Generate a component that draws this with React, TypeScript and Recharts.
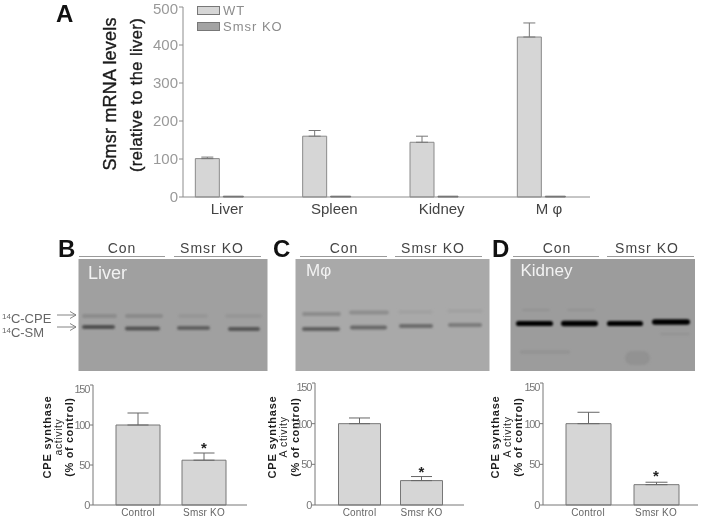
import React from 'react';
import {
  BarChart,
  Bar,
  XAxis,
  YAxis,
  ErrorBar,
  Legend,
  ReferenceDot,
} from 'recharts';

const FONT = '"Liberation Sans", Arial, sans-serif';

// panel A
const tissues = ['Liver', 'Spleen', 'Kidney', 'M \u03c6'];
const wtLevels = [101, 160, 144, 421];
const wtErrors = [4, 15, 16, 37];
const koLevels = [2, 2, 2, 2];
const levelTicks = [0, 100, 200, 300, 400, 500];

// panels B, C, D
const groups = ['Control', 'Smsr KO'];
const activityTicks = [0, 50, 100, 150];
const liverActivity = [100, 56];
const liverErrors = [15, 9];
const macrophageActivity = [100, 30];
const macrophageErrors = [7, 5];
const kidneyActivity = [100, 25];
const kidneyErrors = [14, 3];

const levelData = tissues.map((tissue, i) => ({
  tissue,
  WT: wtLevels[i],
  'Smsr KO': koLevels[i],
  err: [0, wtErrors[i]],
}));

const SmallLegend = ({ payload }: any) => (
  <div style={{ fontFamily: FONT, fontSize: 13, color: '#8c8c8c', letterSpacing: 1 }}>
    {(payload || []).map((item: any) => (
      <div key={item.value} style={{ display: 'flex', alignItems: 'center', height: 15.5 }}>
        <span
          style={{
            display: 'inline-block',
            width: 21,
            height: 7,
            background: item.color,
            border: '1px solid #777',
            marginRight: 3,
          }}
        />
        {item.value}
      </div>
    ))}
  </div>
);

const LevelsChart = () => (
  <div style={{ position: 'absolute', left: 130, top: 0 }}>
    <BarChart
      width={465}
      height={232}
      data={levelData}
      margin={{ top: 7, right: 5, bottom: 0, left: 0 }}
    >
      <XAxis
        dataKey="tissue"
        scale="point"
        padding={{ left: 36, right: 49 }}
        height={35}
        tickLine={false}
        tickSize={2}
        tickMargin={4}
        interval={0}
        axisLine={{ stroke: '#8c8c8c' }}
        tick={{ fill: '#444', fontFamily: FONT, fontSize: 15, dx: 8 }}
      />
      <YAxis
        width={53}
        domain={[0, 500]}
        ticks={levelTicks}
        tickSize={4}
        tickMargin={1}
        axisLine={{ stroke: '#8c8c8c' }}
        tickLine={{ stroke: '#8c8c8c' }}
        tick={{ fill: '#999', fontFamily: FONT, fontSize: 15 }}
      />
      <Legend
        layout="horizontal"
        align="center"
        verticalAlign="middle"
        itemSorter={null}
        content={<SmallLegend />}
        wrapperStyle={{ left: 67, top: 3, width: 130 }}
      />
      <Bar dataKey="WT" barSize={24} fill="#d6d6d6" stroke="#8a8a8a" strokeWidth={1} isAnimationActive={false}>
        <ErrorBar dataKey="err" width={6} stroke="#777" strokeWidth={1} direction="y" isAnimationActive={false} />
      </Bar>
      <Bar dataKey="Smsr KO" barSize={20} fill="#a3a3a3" stroke="#555" strokeWidth={1} isAnimationActive={false} />
    </BarChart>
  </div>
);

type ActivityProps = {
  left: number;
  top: number;
  width: number;
  height: number;
  axisWidth: number;
  padLeft: number;
  padRight: number;
  barSize: number;
  capWidth: number;
  values: number[];
  errors: number[];
  starValue: number;
};

const ActivityChart = (p: ActivityProps) => {
  const data = groups.map((group, i) => ({
    group,
    value: p.values[i],
    err: [0, p.errors[i]],
  }));
  return (
    <div style={{ position: 'absolute', left: p.left, top: p.top }}>
      <BarChart
        width={p.width}
        height={p.height}
        data={data}
        margin={{ top: 2, right: 1, bottom: 0, left: 0 }}
      >
        <XAxis
          dataKey="group"
          scale="point"
          padding={{ left: p.padLeft, right: p.padRight }}
          height={15.5}
          tickLine={false}
          tickSize={1}
          tickMargin={3}
          interval={0}
          axisLine={{ stroke: '#777' }}
          tick={{ fill: '#666', fontFamily: FONT, fontSize: 10, letterSpacing: 0.2 }}
        />
        <YAxis
          width={p.axisWidth}
          domain={[0, 150]}
          ticks={activityTicks}
          tickSize={3}
          tickMargin={1}
          axisLine={{ stroke: '#777' }}
          tickLine={{ stroke: '#777' }}
          tick={{ fill: '#777', fontFamily: FONT, fontSize: 11, letterSpacing: -1.3 }}
        />
        <Bar dataKey="value" barSize={p.barSize} fill="#d6d6d6" stroke="#777" strokeWidth={1} isAnimationActive={false}>
          <ErrorBar dataKey="err" width={p.capWidth / 2} stroke="#666" strokeWidth={1} direction="y" isAnimationActive={false} />
        </Bar>
        <ReferenceDot
          x={groups[1]}
          y={p.starValue}
          r={0}
          stroke="none"
          label={{ value: '*', position: 'center', fill: '#222', fontFamily: FONT, fontSize: 15, fontWeight: 'bold', dy: 3 }}
        />
      </BarChart>
    </div>
  );
};

const RotatedText = ({ x, y, size, bold, spacing, heavy, children }: any) => (
  <text
    transform={`translate(${x},${y}) rotate(-90)`}
    textAnchor="middle"
    dominantBaseline="central"
    fontSize={size}
    fontWeight={bold ? 'bold' : 'normal'}
    letterSpacing={spacing}
    fill="#1c1c1c"
    stroke={heavy ? '#1c1c1c' : 'none'}
    strokeWidth={heavy ? 0.35 : 0}
  >
    {children}
  </text>
);

// the autoradiograms are photographic insets, not plotted data
const Blot = ({ id, x, width, shade, children }: any) => (
  <g>
    <defs>
      <filter id={id} x="-20%" y="-200%" width="140%" height="500%">
        <feGaussianBlur stdDeviation="1.1" />
      </filter>
    </defs>
    <rect x={x} y={259} width={width} height={112} fill={shade} />
    <g filter={`url(#${id})`}>{children}</g>
  </g>
);

const Band = ({ x1, x2, y, h = 2, fill }: any) => (
  <rect x={x1} y={y - h} width={x2 - x1} height={h * 2} rx={h} fill={fill} />
);

const Header = ({ letter, letterX, line1, line2, con, ko }: any) => (
  <g>
    <text x={letterX} y={257} fontSize={24} fontWeight="bold" fill="#111">{letter}</text>
    <line x1={line1[0]} x2={line1[1]} y1={256.5} y2={256.5} stroke="#9a9a9a" strokeWidth={1} />
    <line x1={line2[0]} x2={line2[1]} y1={256.5} y2={256.5} stroke="#9a9a9a" strokeWidth={1} />
    <text x={con} y={252.5} textAnchor="middle" fontSize={14} letterSpacing={1} fill="#444">Con</text>
    <text x={ko} y={252.5} textAnchor="middle" fontSize={14} letterSpacing={1} fill="#444">Smsr KO</text>
  </g>
);

const Arrow = ({ y }: { y: number }) => (
  <path
    d={`M57 ${y} H76 M70 ${y - 3.5} L76 ${y} L70 ${y + 3.5}`}
    fill="none"
    stroke="#777"
    strokeWidth={0.9}
  />
);

const Overlay = () => (
  <svg
    width={703}
    height={520}
    style={{ position: 'absolute', left: 0, top: 0, fontFamily: FONT }}
  >
    <text x={56} y={22} fontSize={24} fontWeight="bold" fill="#111">A</text>
    <RotatedText x={110} y={94} size={18} spacing={0.2} heavy>Smsr mRNA levels</RotatedText>
    <RotatedText x={136} y={95} size={16.5} spacing={0.4} heavy>(relative to the liver)</RotatedText>

    <Header letter="B" letterX={58} line1={[79, 165]} line2={[174, 261]} con={122} ko={212} />
    <Header letter="C" letterX={273} line1={[300, 387]} line2={[395, 482]} con={344} ko={433} />
    <Header letter="D" letterX={492} line1={[513, 599]} line2={[607, 694]} con={557} ko={647} />

    <Blot id="blotB" x={78.5} width={189} shade="#a0a0a0">
      <Band x1={82} x2={117} y={316} fill="#8c8c8c" />
      <Band x1={125} x2={163} y={316} fill="#8a8a8a" />
      <Band x1={178} x2={208} y={316} fill="#969696" />
      <Band x1={225} x2={262} y={316} fill="#969696" />
      <Band x1={82} x2={115} y={327} fill="#505050" />
      <Band x1={125} x2={160} y={328.5} fill="#525252" />
      <Band x1={177} x2={210} y={328} fill="#606060" />
      <Band x1={228} x2={260} y={329} fill="#565656" />
    </Blot>
    <text x={88} y={279} fontSize={18} fill="#f2f2f2">Liver</text>

    <Blot id="blotC" x={295.5} width={194} shade="#a9a9a9">
      <Band x1={302} x2={341} y={314} fill="#8c8c8c" />
      <Band x1={349} x2={389} y={312.5} fill="#8e8e8e" />
      <Band x1={398} x2={433} y={312} fill="#a2a2a2" />
      <Band x1={447} x2={483} y={311} fill="#a2a2a2" />
      <Band x1={302} x2={340} y={329} fill="#606060" />
      <Band x1={350} x2={387} y={327.5} fill="#686868" />
      <Band x1={399} x2={433} y={326} fill="#6c6c6c" />
      <Band x1={448} x2={482} y={325} fill="#7c7c7c" />
    </Blot>
    <text x={306} y={276} fontSize={17} fill="#f2f2f2">{'M\u03c6'}</text>

    <Blot id="blotD" x={510.5} width={184.5} shade="#9c9c9c">
      <Band x1={522} x2={550} y={310} h={0.8} fill="#8e8e8e" />
      <Band x1={567} x2={595} y={310} h={0.8} fill="#8e8e8e" />
      <Band x1={516} x2={553} y={323.5} h={2.6} fill="#050505" />
      <Band x1={561} x2={598} y={323.5} h={2.8} fill="#050505" />
      <Band x1={607} x2={643} y={323.5} h={2.6} fill="#050505" />
      <Band x1={652} x2={690} y={322} h={2.8} fill="#050505" />
      <Band x1={520} x2={570} y={352} h={1.5} fill="#929292" />
      <Band x1={625} x2={650} y={358} h={7} fill="#929292" />
      <Band x1={660} x2={690} y={334} h={1.5} fill="#949494" />
    </Blot>
    <text x={520.5} y={276} fontSize={17} fill="#f2f2f2">Kidney</text>

    <Arrow y={315} />
    <Arrow y={327} />
    <text x={2} y={323} fontSize={13} fill="#666">
      <tspan fontSize={8} dy={-4}>14</tspan>
      <tspan dy={4}>C-CPE</tspan>
    </text>
    <text x={2} y={337} fontSize={13} fill="#666">
      <tspan fontSize={8} dy={-4}>14</tspan>
      <tspan dy={4}>C-SM</tspan>
    </text>

    <RotatedText x={47} y={437} size={11} bold spacing={0.8}>CPE synthase</RotatedText>
    <RotatedText x={58} y={437} size={10.5} spacing={0.6}>activity</RotatedText>
    <RotatedText x={69} y={437} size={11} bold spacing={0.6}>(% of control)</RotatedText>

    <RotatedText x={272} y={437} size={11} bold spacing={0.8}>CPE synthase</RotatedText>
    <RotatedText x={283} y={437} size={10.5} spacing={0.6}>A ctivity</RotatedText>
    <RotatedText x={295} y={437} size={11} bold spacing={0.6}>(% of control)</RotatedText>

    <RotatedText x={495} y={437} size={11} bold spacing={0.8}>CPE synthase</RotatedText>
    <RotatedText x={507} y={437} size={10.5} spacing={0.6}>A ctivity</RotatedText>
    <RotatedText x={518} y={437} size={11} bold spacing={0.6}>(% of control)</RotatedText>
  </svg>
);

const App = () => (
  <div style={{ position: 'absolute', left: 0, top: 0, width: 703, height: 520, background: '#fff', overflow: 'hidden', filter: 'blur(0.35px)' }}>
    <Overlay />
    <LevelsChart />
    <ActivityChart
      left={68}
      top={382.5}
      width={180}
      height={137.5}
      axisWidth={25}
      padLeft={45}
      padRight={43}
      barSize={44}
      capWidth={21}
      values={liverActivity}
      errors={liverErrors}
      starValue={75}
    />
    <ActivityChart
      left={290}
      top={380.5}
      width={175}
      height={139.5}
      axisWidth={25}
      padLeft={44.5}
      padRight={42.5}
      barSize={42}
      capWidth={21}
      values={macrophageActivity}
      errors={macrophageErrors}
      starValue={45}
    />
    <ActivityChart
      left={518}
      top={380.5}
      width={181}
      height={139.5}
      axisWidth={25}
      padLeft={45}
      padRight={42}
      barSize={45}
      capWidth={22}
      values={kidneyActivity}
      errors={kidneyErrors}
      starValue={40}
    />
  </div>
);

export default App;
